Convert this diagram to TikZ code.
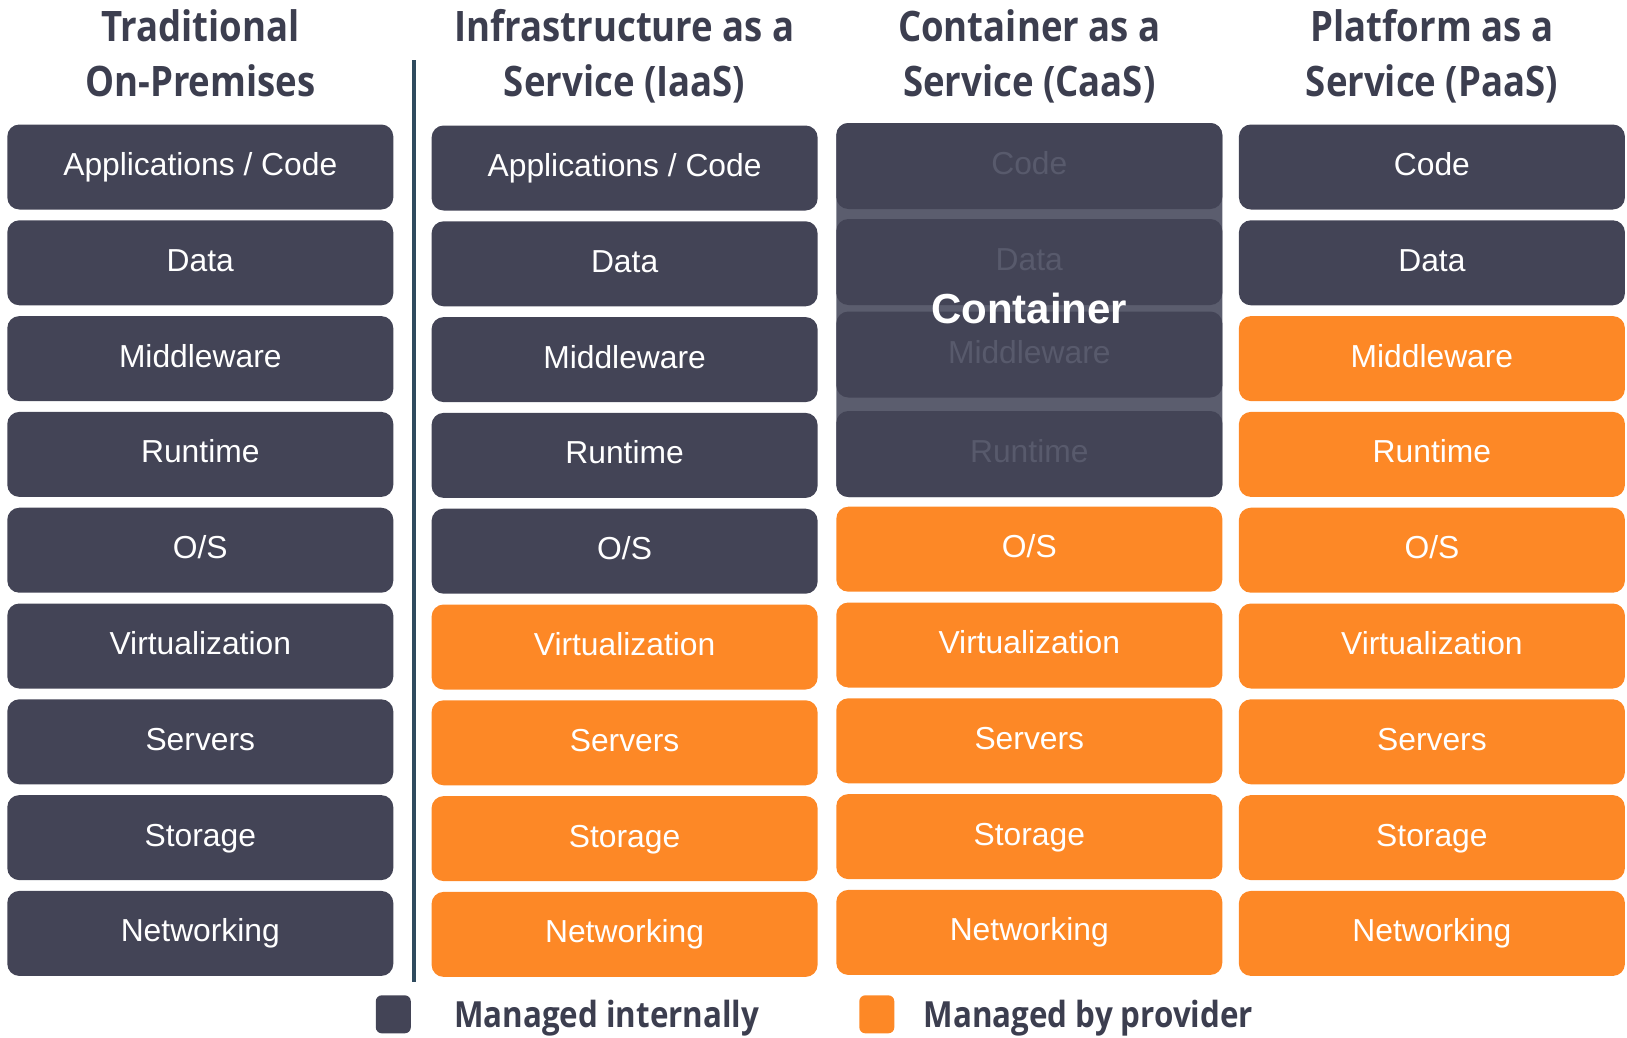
\documentclass[tikz,border=0pt]{standalone}
\usepackage{fontspec}
\setmainfont{Liberation Sans}
\newfontfamily\titrefont[FakeStretch=0.87]{Open Sans}
\usetikzlibrary{calc}

\definecolor{grisfonce}{HTML}{434456}
\definecolor{orangevif}{HTML}{FD8826}
\definecolor{fondconteneur}{HTML}{5B5D6E}
\definecolor{texteconteneur}{HTML}{585A6C}
\definecolor{couleurtitre}{HTML}{3C3E4F}
\definecolor{couleurtrait}{HTML}{2F4B5E}

\tikzstyle{bloc}        =[rounded corners=12pt, minimum width=386pt, minimum height=85pt, inner sep=0pt, text height=23pt, text depth=6pt, text=white, font=\fontsize{31.8}{36}\selectfont]
\tikzstyle{interne}     =[bloc, fill=grisfonce]
\tikzstyle{fournisseur} =[bloc, fill=orangevif]
\tikzstyle{titre}       =[anchor=base, inner sep=0pt, text=couleurtitre, font=\titrefont\bfseries\fontsize{42}{50}\selectfont]
\tikzstyle{legende}     =[anchor=base west, inner sep=0pt, text=couleurtitre, font=\titrefont\bfseries\fontsize{36}{42}\selectfont]
\tikzstyle{carre}       =[rounded corners=6pt, minimum width=35pt, minimum height=38pt, inner sep=0pt]

\begin{document}
\begin{tikzpicture}[x=1pt,y=-1pt]

\useasboundingbox (0,0) rectangle (1627,1037);

%%%%%%%%%%%%%%%%%%%%%%%%
%Paramètres des colonnes
%%%%%%%%%%%%%%%%%%%%%%%%

\def \pas {95.8}; %écart vertical entre deux blocs
\def \haut {167}; %ordonnée du centre du premier bloc
\def \colA {200.3}; %abscisses des centres des colonnes
\def \colB {624.6};
\def \colC {1029.3};
\def \colD {1431.9};

%%%%%%%%%%%%%%%%%%%%%%%%
%Titres
%%%%%%%%%%%%%%%%%%%%%%%%

\foreach \x/\premiere/\seconde [count=\c] in {\colA/Traditional/On-Premises,\colB/Infrastructure as a/Service (IaaS),\colC/Container as a/Service (CaaS),\colD/Platform as a/Service (PaaS)}{
\node[titre] (titre\c a) at (\x,41.5) {\premiere};
\node[titre] (titre\c b) at (\x,96) {\seconde};
}

%trait de séparation
\draw[couleurtrait, line width=4pt] (414,60)--(414,981.6);

%%%%%%%%%%%%%%%%%%%%%%%%
%Traditional On-Premises
%%%%%%%%%%%%%%%%%%%%%%%%

\foreach \lab/\sty [count=\i] in {{Applications / Code}/interne,Data/interne,Middleware/interne,Runtime/interne,{O/S}/interne,Virtualization/interne,Servers/interne,Storage/interne,Networking/interne}
\node[\sty] (tradi\i) at (\colA,{\haut+(\i-1)*\pas}) {\lab};

%%%%%%%%%%%%%%%%%%%%%%%%
%IaaS
%%%%%%%%%%%%%%%%%%%%%%%%

\foreach \lab/\sty [count=\i] in {{Applications / Code}/interne,Data/interne,Middleware/interne,Runtime/interne,{O/S}/interne,Virtualization/fournisseur,Servers/fournisseur,Storage/fournisseur,Networking/fournisseur}
\node[\sty] (iaas\i) at (\colB,{\haut+1+(\i-1)*\pas}) {\lab};

%%%%%%%%%%%%%%%%%%%%%%%%
%CaaS : le conteneur couvre les 4 premiers blocs
%%%%%%%%%%%%%%%%%%%%%%%%

\fill[fondconteneur, rounded corners=12pt] (836.3,123) rectangle (1222.3,497);
\foreach \y/\lab [count=\i] in {166/Code,262/Data,354.5/Middleware,454/Runtime}
\node[interne, minimum height=86pt, text=texteconteneur] (caas\i) at (\colC,\y) {\lab};
\node[text=white, font=\bfseries\fontsize{42}{48}\selectfont] (conteneur) at (\colC,308) {Container};

\foreach \lab [count=\i from 5] in {O/S,Virtualization,Servers,Storage,Networking}
\node[fournisseur] (caas\i) at (\colC,{\haut-1+(\i-1)*\pas}) {\lab};

%%%%%%%%%%%%%%%%%%%%%%%%
%PaaS
%%%%%%%%%%%%%%%%%%%%%%%%

\foreach \lab/\sty [count=\i] in {Code/interne,Data/interne,Middleware/fournisseur,Runtime/fournisseur,{O/S}/fournisseur,Virtualization/fournisseur,Servers/fournisseur,Storage/fournisseur,Networking/fournisseur}
\node[\sty] (paas\i) at (\colD,{\haut+(\i-1)*\pas}) {\lab};

%%%%%%%%%%%%%%%%%%%%%%%%
%Légende
%%%%%%%%%%%%%%%%%%%%%%%%

\node[carre, fill=grisfonce] (carre1) at (393.3,1014.3) {};
\node[legende] (legende1) at (454,1027) {Managed internally};
\node[carre, fill=orangevif] (carre2) at (876.8,1014.3) {};
\node[legende] (legende2) at (923.5,1027) {Managed by provider};

\end{tikzpicture}
\end{document}
